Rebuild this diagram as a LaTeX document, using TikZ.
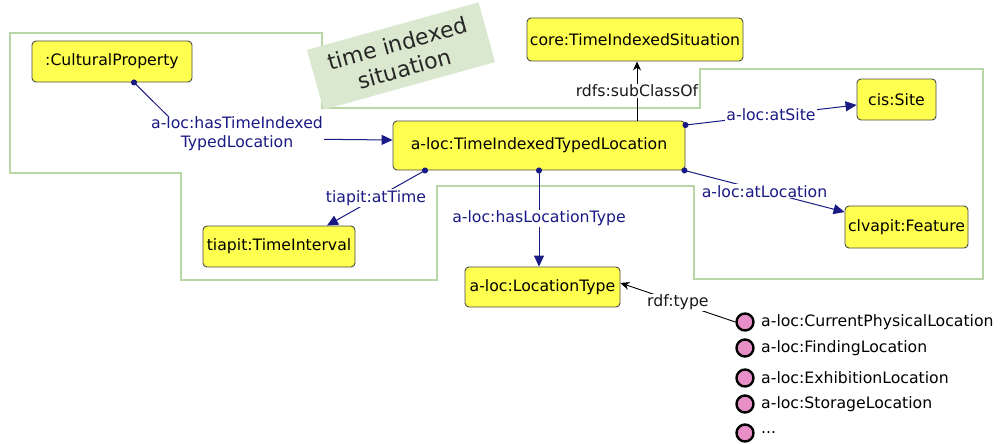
\documentclass[tikz,border=0pt]{standalone}
\usepackage{fontspec}
\setmainfont{DejaVu Sans}
\usetikzlibrary{arrows.meta,calc}
\definecolor{nodeyellow}{HTML}{FFFF4F}
\definecolor{nodeborder}{HTML}{4A4A4A}
\definecolor{propblue}{HTML}{1A1A85}
\definecolor{grpgreen}{HTML}{B9D6A6}
\definecolor{lblgreen}{HTML}{D9E8CF}
\definecolor{indpink}{HTML}{E98FC8}
\tikzset{
  cls/.style={draw=nodeborder, line width=0.9pt, fill=nodeyellow, rounded corners=4pt,
    inner sep=0pt, font=\fontsize{15.7}{18}\selectfont, text=black},
  elabel/.style={fill=white, inner sep=1pt, font=\fontsize{15.7}{19}\selectfont, align=center},
  prop/.style={draw=propblue, line width=1pt, shorten <=-3pt,
    {Circle[length=6pt]}-{Triangle[length=11pt,width=10pt]}},
  propl/.style={elabel, text=propblue},
  blk/.style={draw=black, line width=0.9pt, -{Stealth[length=9pt,width=8pt]}},
  blkl/.style={elabel, text=black!90},
  ind/.style={circle, draw=black, line width=2.4pt, fill=indpink, minimum size=17pt, inner sep=0pt},
  indl/.style={anchor=west, inner sep=0pt, font=\fontsize{15.7}{18}\selectfont},
}
\begin{document}
\begin{tikzpicture}[x=1pt,y=-1pt]
\useasboundingbox (0,0) rectangle (1001,444);
\fill[white] (0,0) rectangle (1001,444);
% group outline
\draw[grpgreen, line width=1.2pt] (10,33) -- (322,33) -- (322,108) -- (700,108) -- (700,69) -- (983,69)
  -- (983,279) -- (694,279) -- (694,186) -- (437,186) -- (437,280) -- (181,280) -- (181,173) -- (10,173) -- cycle;
% label box
\node[rotate=15.5, fill=lblgreen, minimum width=178pt, minimum height=62pt, inner sep=0pt, align=center,
  font=\fontsize{22}{26}\selectfont, text=black!85] (tis) at (401,56) {time indexed\\situation};
% classes
\node[cls, minimum width=160pt, minimum height=41pt] (cp) at (112,61.5) {:CulturalProperty};
\node[cls, minimum width=216pt, minimum height=43pt] (core) at (635,39.5) {core:TimeIndexedSituation};
\node[cls, minimum width=79pt, minimum height=41pt] (site) at (896.5,99.5) {cis:Site};
\node[cls, minimum width=292pt, minimum height=49pt] (titl) at (539,145.5) {a-loc:TimeIndexedTypedLocation};
\node[cls, minimum width=152pt, minimum height=41pt] (ti) at (279,246.5) {tiapit:TimeInterval};
\node[cls, minimum width=123pt, minimum height=42pt] (feat) at (906.5,227) {clvapit:Feature};
\node[cls, minimum width=155pt, minimum height=40pt] (lt) at (542.5,287) {a-loc:LocationType};
% individuals
\node[ind] (i1) at (745,322) {};
\node[ind] (i2) at (745,348) {};
\node[ind] (i3) at (745,378) {};
\node[ind] (i4) at (745,404) {};
\node[ind] (i5) at (745,433) {};
\node[indl] (t1) at (761,322) {a-loc:CurrentPhysicalLocation};
\node[indl] (t2) at (761,348) {a-loc:FindingLocation};
\node[indl] (t3) at (761,378) {a-loc:ExhibitionLocation};
\node[indl] (t4) at (761,404) {a-loc:StorageLocation};
\node[indl] (t5) at (761,433) {...};
% edges
\coordinate (bend) at (190,138);
\draw[prop] ([xshift=22pt]cp.south) -- (bend) -- ([yshift=5.5pt]titl.west);
\node[propl] (lhas) at (237,134) {a-loc:hasTimeIndexed\\TypedLocation};
\draw[blk] ([xshift=98pt]titl.north) -- node[blkl] {rdfs:subClassOf} ([xshift=2pt]core.south);
\draw[prop] ([yshift=-4.5pt]titl.north east) -- node[propl] {a-loc:atSite} ([yshift=-5.5pt]site.west);
\draw[prop] ([xshift=-114pt]titl.south) -- node[propl] {tiapit:atTime} ([xshift=48pt]ti.north);
\draw[prop] (titl.south) -- node[propl] {a-loc:hasLocationType} ([xshift=-3.5pt]lt.north);
\draw[prop] ([xshift=-1pt]titl.south east) -- node[propl] {a-loc:atLocation} ([yshift=15pt]feat.west);
\draw[blk] (i1.west) -- node[blkl] {rdf:type} ([yshift=4pt]lt.east);
\end{tikzpicture}
\end{document}
